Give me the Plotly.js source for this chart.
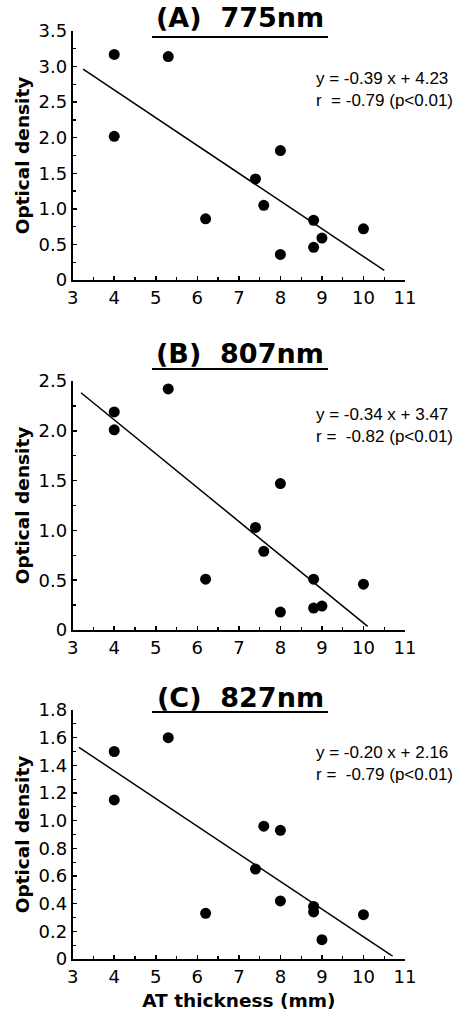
<!DOCTYPE html>
<html>
<head>
<meta charset="utf-8">
<script src="https://cdn.plot.ly/plotly-3.0.1.min.js"></script>
<style>
  html, body { margin: 0; padding: 0; background: #fff; }
  #chart { width: 459px; height: 1012px; }
</style>
</head>
<body>
<div id="chart"></div>
<script>
// AT thickness (mm) of the subjects, same order in every panel
const thickness = [4, 4, 5.3, 6.2, 7.4, 7.6, 8, 8, 8.8, 8.8, 9, 10];

// optical density at each wavelength
const od775 = [3.17, 2.02, 3.14, 0.86, 1.42, 1.05, 1.82, 0.36, 0.84, 0.46, 0.59, 0.72];
const od807 = [2.19, 2.01, 2.42, 0.51, 1.03, 0.79, 1.47, 0.18, 0.51, 0.22, 0.24, 0.46];
const od827 = [1.5, 1.15, 1.6, 0.33, 0.65, 0.96, 0.93, 0.42, 0.38, 0.34, 0.14, 0.32];

const panelTitles = ["(A)\u00a0 775nm", "(B)\u00a0 807nm", "(C)\u00a0 827nm"];

// regression lines: y = slope * x + intercept, drawn between fitFrom and fitTo
const fitSlopes = [-0.39, -0.34, -0.2];
const fitIntercepts = [4.23, 3.47, 2.16];
const fitFrom = [3.25, 3.2, 3.15];
const fitTo = [10.5, 10.1, 10.7];
const fitLabels = [
  "y = -0.39 x + 4.23<br>r \u00a0= -0.79 (p&lt;0.01)",
  "y = -0.34 x + 3.47<br>r = \u00a0-0.82 (p&lt;0.01)",
  "y = -0.20 x + 2.16<br>r = \u00a0-0.79 (p&lt;0.01)",
];

const xTicks = [3, 4, 5, 6, 7, 8, 9, 10, 11];
const yTicksA = [0, 0.5, 1, 1.5, 2, 2.5, 3, 3.5];
const yLabelsA = ["0", "0.5", "1.0", "1.5", "2.0", "2.5", "3.0", "3.5"];
const yTicksB = [0, 0.5, 1, 1.5, 2, 2.5];
const yLabelsB = ["0", "0.5", "1.0", "1.5", "2.0", "2.5"];
const yTicksC = [0, 0.2, 0.4, 0.6, 0.8, 1, 1.2, 1.4, 1.6, 1.8];
const yLabelsC = ["0", "0.2", "0.4", "0.6", "0.8", "1.0", "1.2", "1.4", "1.6", "1.8"];

const W = 459;
const H = 1012;

// pixel boxes of the three plot areas
const panels = [
  { y: od775, ticks: yTicksA, labels: yLabelsA, top: 31, bottom: 280, minor: 0.25 },
  { y: od807, ticks: yTicksB, labels: yLabelsB, top: 381, bottom: 630, minor: 0.25 },
  { y: od827, ticks: yTicksC, labels: yLabelsC, top: 710, bottom: 959, minor: 0.1 },
];
const plotLeft = 72.7;
const plotRight = 405;
// title cap centre and underline, in page pixels
const titleMid = [17, 353, 697];
const underlineY = [37, 369, 712];
const fitLabelTop = [67, 403, 741];

const tickFont = { family: "DejaVu Sans", size: 18, color: "#000" };
const axisTitleFont = { family: "DejaVu Sans", size: 18.5, color: "#000", weight: "bold" };

const px = (x) => x / W;
const py = (y) => 1 - y / H;

const data = [];
const layout = {
  width: W,
  height: H,
  margin: { l: 0, r: 0, t: 0, b: 0 },
  paper_bgcolor: "#fff",
  plot_bgcolor: "#fff",
  showlegend: false,
  annotations: [],
  shapes: [],
};

panels.forEach((p, i) => {
  const n = i === 0 ? "" : String(i + 1);
  const xa = "x" + n;
  const ya = "y" + n;

  data.push({
    type: "scatter",
    mode: "markers",
    x: thickness,
    y: p.y,
    xaxis: xa,
    yaxis: ya,
    marker: { size: 11, color: "#000" },
    cliponaxis: false,
  });

  const fx = [fitFrom[i], fitTo[i]];
  data.push({
    type: "scatter",
    mode: "lines",
    x: fx,
    y: fx.map((v) => fitSlopes[i] * v + fitIntercepts[i]),
    xaxis: xa,
    yaxis: ya,
    line: { color: "#000", width: 1.5 },
  });

  layout["xaxis" + n] = {
    anchor: ya,
    domain: [px(plotLeft), px(plotRight)],
    range: [3, 11],
    tickvals: xTicks,
    ticktext: xTicks.map(String),
    ticks: "inside",
    ticklen: 4,
    tickwidth: 1.5,
    tickcolor: "#000",
    minor: { dtick: 0.5, tick0: 3, ticks: "inside", ticklen: 3, tickwidth: 1.2, tickcolor: "#000" },
    tickfont: tickFont,
    showline: true,
    linewidth: 2,
    linecolor: "#000",
    showgrid: false,
    zeroline: false,
    fixedrange: true,
  };
  if (i === 2) {
    layout["xaxis" + n].title = { text: "AT thickness (mm)", font: axisTitleFont, standoff: 8 };
  }

  layout["yaxis" + n] = {
    anchor: xa,
    domain: [py(p.bottom), py(p.top)],
    range: [0, p.ticks[p.ticks.length - 1]],
    tickvals: p.ticks,
    ticktext: p.labels,
    ticks: "inside",
    ticklen: 4,
    tickwidth: 1.5,
    tickcolor: "#000",
    minor: { dtick: p.minor, tick0: 0, ticks: "inside", ticklen: 3, tickwidth: 1.2, tickcolor: "#000" },
    tickfont: tickFont,
    showline: true,
    linewidth: 2,
    linecolor: "#000",
    showgrid: false,
    zeroline: false,
    fixedrange: true,
    title: { text: "Optical density", font: axisTitleFont, standoff: 4 },
  };

  layout.annotations.push({
    text: panelTitles[i],
    xref: "paper",
    yref: "paper",
    x: px(240),
    y: py(titleMid[i]),
    xanchor: "center",
    yanchor: "middle",
    showarrow: false,
    font: { family: "DejaVu Sans", size: 27, color: "#000", weight: "bold" },
  });

  layout.annotations.push({
    text: fitLabels[i],
    xref: "paper",
    yref: "paper",
    x: px(314),
    y: py(fitLabelTop[i]),
    xanchor: "left",
    yanchor: "top",
    align: "left",
    showarrow: false,
    font: { family: "Liberation Sans", size: 17, color: "#000" },
  });

  layout.shapes.push({
    type: "line",
    xref: "paper",
    yref: "paper",
    x0: px(152),
    x1: px(328),
    y0: py(underlineY[i]),
    y1: py(underlineY[i]),
    line: { color: "#000", width: 2 },
  });
});

Plotly.newPlot("chart", data, layout, { displayModeBar: false, staticPlot: true });
</script>
</body>
</html>
